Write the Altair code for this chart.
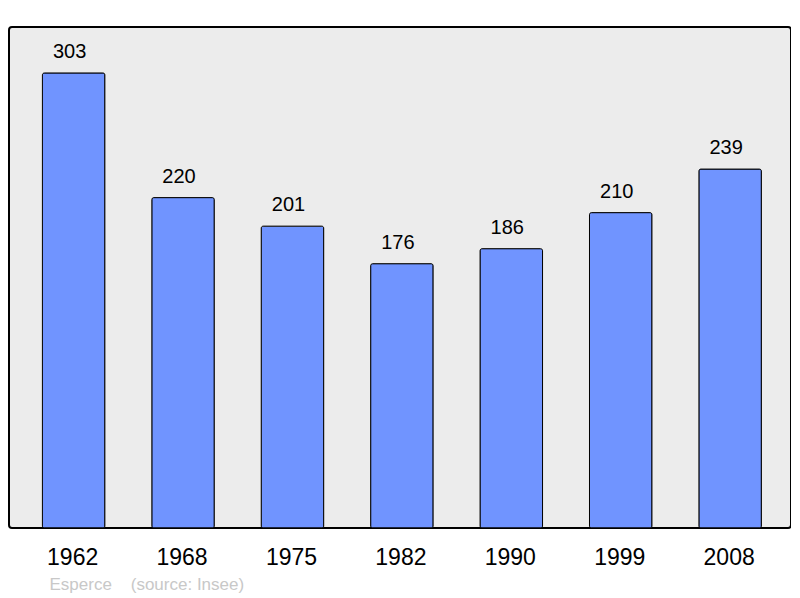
import altair as alt
import pandas as pd

years = ["1962", "1968", "1975", "1982", "1990", "1999", "2008"]
population = [303, 220, 201, 176, 186, 210, 239]
source_text = "Esperce\u00a0\u00a0\u00a0\u00a0(source: Insee)"

df = pd.DataFrame({"year": years, "pop": population})

FONT = "Liberation Sans"

base = alt.Chart(df).encode(
    x=alt.X(
        "year:N",
        sort=years,
        scale=alt.Scale(paddingInner=0.429, paddingOuter=0.288, align=0.53),
        axis=alt.Axis(
            title=source_text,
            titleFont=FONT,
            titleFontSize=17,
            titleFontWeight="normal",
            titleColor="#c8c8c8",
            titleAlign="left",
            titleAnchor="start",
            titleBaseline="alphabetic",
            titleX=40,
            titleY=61,
            labelFont=FONT,
            labelFontSize=23,
            labelColor="#000000",
            labelAngle=0,
            labelBaseline="alphabetic",
            labelPadding=36,
            labelOffset=-1,
            ticks=False,
            domain=False,
            grid=False,
        ),
    ),
    y=alt.Y(
        "pop:Q",
        scale=alt.Scale(domain=[0, 333.6], nice=False, zero=True),
        axis=None,
    ),
)

bars = base.mark_bar(
    color="#7094ff",
    stroke="#000000",
    strokeWidth=1,
    cornerRadius=2,
)

labels = base.mark_text(
    font=FONT,
    fontSize=20,
    color="#000000",
    baseline="alphabetic",
    dx=-4,
    dy=-15,
).encode(text="pop:Q")

chart = (
    alt.layer(bars, labels)
    .properties(
        width=782,
        height=501,
        autosize=alt.AutoSizeParams(type="none"),
        padding={"left": 1, "top": 19, "right": 0, "bottom": 66},
        background="#ffffff",
    )
    .configure_view(
        fill="#ececec",
        stroke="#000000",
        strokeWidth=2,
        cornerRadius=3,
    )
)

chart.save("out.html", embed_options={"renderer": "svg", "actions": False})
